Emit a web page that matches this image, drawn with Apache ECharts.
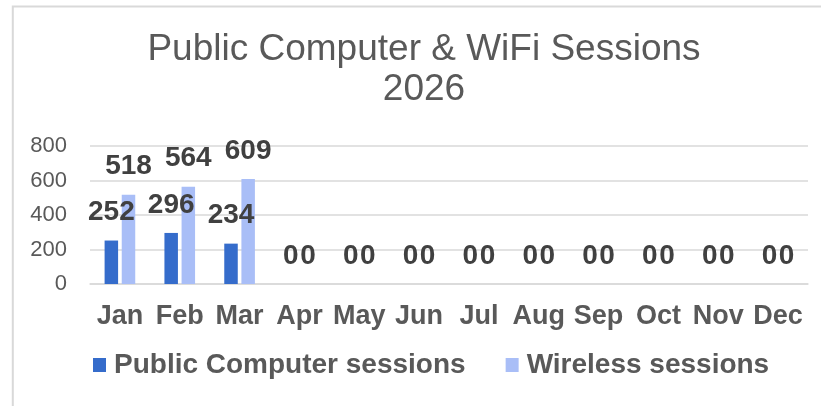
<!DOCTYPE html>
<html>
<head>
<meta charset="utf-8">
<title>Public Computer &amp; WiFi Sessions 2026</title>
<script src="https://cdn.jsdelivr.net/npm/echarts@6/dist/echarts.min.js"></script>
<style>
  html, body { margin: 0; padding: 0; background: #ffffff; }
  #chart { width: 821px; height: 406px; }
</style>
</head>
<body>
<div id="chart"></div>
<script>
// Monthly session counts for 2026
const months = ['Jan', 'Feb', 'Mar', 'Apr', 'May', 'Jun', 'Jul', 'Aug', 'Sep', 'Oct', 'Nov', 'Dec'];
const publicComputerSessions = [252, 296, 234, 0, 0, 0, 0, 0, 0, 0, 0, 0];
const wirelessSessions = [518, 564, 609, 0, 0, 0, 0, 0, 0, 0, 0, 0];
const yTicks = { min: 0, max: 800, interval: 200 };

const FONT = "'Liberation Sans', Arial, Helvetica, sans-serif";
const GRID_GRAY = '#d9d9d9';
const TEXT_GRAY = '#595959';
const LABEL_DARK = '#404040';

const chart = echarts.init(document.getElementById('chart'), null, { renderer: 'canvas' });

const valueLabel = {
  show: true,
  position: 'top',
  distance: 14,
  color: LABEL_DARK,
  fontFamily: FONT,
  fontWeight: 'bold',
  fontSize: 28
};

chart.setOption({
  animation: false,
  backgroundColor: '#ffffff',
  textStyle: { fontFamily: FONT },
  title: {
    text: 'Public Computer & WiFi Sessions\n2026',
    left: 424,
    top: 30,
    padding: 0,
    textAlign: 'center',
    textStyle: {
      color: TEXT_GRAY,
      fontFamily: FONT,
      fontWeight: 'normal',
      fontSize: 37,
      lineHeight: 40
    }
  },
  graphic: [{
    type: 'rect',
    silent: true,
    shape: { x: 12.8, y: 6.5, width: 900, height: 500 },
    style: { fill: 'none', stroke: GRID_GRAY, lineWidth: 2 }
  }],
  legend: {
    left: 93,
    top: 351,
    padding: 0,
    itemWidth: 13,
    itemHeight: 14,
    itemGap: 40,
    icon: 'rect',
    textStyle: {
      color: TEXT_GRAY,
      fontFamily: FONT,
      fontWeight: 'bold',
      fontSize: 28,
      padding: [0, 0, 4, 3]
    },
    data: ['Public Computer sessions', 'Wireless sessions']
  },
  grid: { left: 90, right: 13, top: 146, bottom: 122, containLabel: false },
  xAxis: {
    type: 'category',
    data: months,
    axisTick: { show: false },
    axisLine: { show: true, lineStyle: { color: GRID_GRAY, width: 1.5 } },
    axisLabel: {
      margin: 19,
      color: TEXT_GRAY,
      fontFamily: FONT,
      fontWeight: 'bold',
      fontSize: 27,
      interval: 0
    }
  },
  yAxis: {
    type: 'value',
    min: yTicks.min,
    max: yTicks.max,
    interval: yTicks.interval,
    axisLine: { show: false },
    axisTick: { show: false },
    splitLine: { lineStyle: { color: GRID_GRAY, width: 1.5 } },
    axisLabel: {
      margin: 23,
      color: TEXT_GRAY,
      fontFamily: FONT,
      fontSize: 22
    }
  },
  series: [
    {
      name: 'Public Computer sessions',
      type: 'bar',
      data: publicComputerSessions,
      barWidth: 13.5,
      barGap: '27%',
      itemStyle: { color: '#356CCB' },
      label: valueLabel
    },
    {
      name: 'Wireless sessions',
      type: 'bar',
      data: wirelessSessions,
      barWidth: 13.5,
      barGap: '27%',
      itemStyle: { color: '#A9BEF7' },
      label: valueLabel
    }
  ]
});
</script>
</body>
</html>
